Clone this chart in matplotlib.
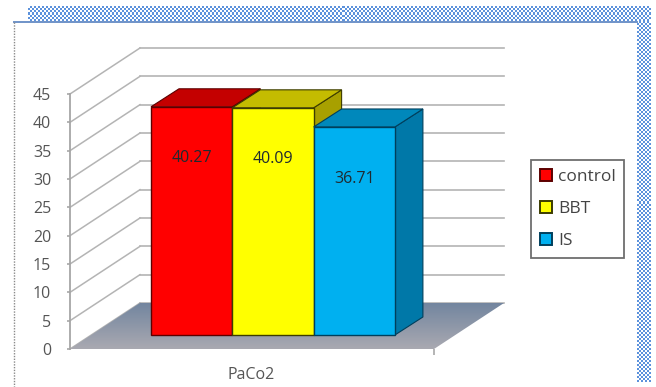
import numpy as np
import matplotlib
matplotlib.use('Agg')
import matplotlib.pyplot as plt
from matplotlib.colors import LinearSegmentedColormap
from matplotlib.patches import Patch, Polygon

plt.rcParams['font.family'] = ['Open Sans', 'DejaVu Sans']

categories = ['PaCo2']
series = ['control', 'BBT', 'IS']
values = [40.27, 40.09, 36.71]
value_labels = ['40.27', '40.09', '36.71']
y_ticks = [0, 5, 10, 15, 20, 25, 30, 35, 40, 45]

front_colors = ['#ff0000', '#ffff00', '#00b0f0']
top_colors = ['#c40000', '#c4bc00', '#0088bb']
side_colors = ['#a00000', '#a8a000', '#0078a8']
edge_colors = ['#5c0000', '#3c3c00', '#003f5c']

W, H = 656, 387
fig = plt.figure(figsize=(W / 100, H / 100), dpi=100, facecolor='white')

# page furniture: checkered band, frame line, dotted left edge
bg = fig.add_axes([0, 0, 1, 1], zorder=0)
bg.set_xlim(0, W)
bg.set_ylim(H, 0)
bg.axis('off')
checker_cmap = LinearSegmentedColormap.from_list('chk', ['#ffffff', '#3f7fd6'])


def checker(x0, x1, y0, y1):
    ny, nx = (y1 - y0) // 2, (x1 - x0) // 2
    yy, xx = np.indices((ny, nx))
    bg.imshow((xx + yy) % 2, cmap=checker_cmap, extent=(x0, x1, y1, y0), aspect='auto',
              interpolation='nearest', alpha=0.85)


checker(28, 651, 6, 21)
checker(637, 651, 21, 382)
bg.set_xlim(0, W)
bg.set_ylim(H, 0)
bg.plot([14, 637], [21.5, 21.5], color='#6f93c8', lw=1.4)
bg.plot([14, 14], [22, H], color='#8a8a8a', lw=1.0, ls=(0, (1, 1)))

# plot area: one x unit is one pixel, y is in data units
x_left, x_right = 70, 434
y_zero, y_top = 349, 94
ax = fig.add_axes([x_left / W, 1 - y_zero / H, (x_right - x_left) / W, (y_zero - y_top) / H], zorder=1)
ax.patch.set_alpha(0)
ax.set_xlim(0, x_right - x_left)
ax.set_ylim(0, 45)

wall_dx = 70
wall_dy = 46 / ((y_zero - y_top) / 45)
grid_color = '#b4b4b4'

for v in y_ticks:
    ax.plot([0, wall_dx], [v, v + wall_dy], color=grid_color, lw=1.1, clip_on=False, zorder=1)
    ax.plot([wall_dx, x_right - x_left + wall_dx], [v + wall_dy, v + wall_dy], color=grid_color,
            lw=1.2, clip_on=False, zorder=1)

# floor with a vertical gradient
floor_pts = [(0, 0), (x_right - x_left, 0), (x_right - x_left + wall_dx, wall_dy), (wall_dx, wall_dy)]
floor = Polygon(floor_pts, closed=True, fc='none', ec='none', transform=ax.transData, clip_on=False)
ax.add_patch(floor)
floor_cmap = LinearSegmentedColormap.from_list('floor', ['#a9a9b1', '#72859f'])
grad = ax.imshow(np.linspace(0, 1, 64).reshape(-1, 1), cmap=floor_cmap, origin='lower', aspect='auto',
                 extent=(0, x_right - x_left + wall_dx, 0, wall_dy), zorder=2)
grad.set_clip_box(fig.bbox)
grad.set_clip_path(floor)
ax.set_xlim(0, x_right - x_left)
ax.set_ylim(0, 45)

# bars: front faces plus oblique top and side faces
bar_left = 81
bar_width = 81.3
bar_base = 14 / ((y_zero - y_top) / 45)
depth_dx = 28
depth_dy = 18 / ((y_zero - y_top) / 45)

lefts = [bar_left + i * bar_width for i in range(len(values))]
for i, (x, v) in enumerate(zip(lefts, values)):
    top = bar_base + v
    edge = edge_colors[i]
    side = Polygon([(x + bar_width, bar_base), (x + bar_width + depth_dx, bar_base + depth_dy),
                    (x + bar_width + depth_dx, top + depth_dy), (x + bar_width, top)],
                   closed=True, fc=side_colors[i], ec=edge, lw=0.8, clip_on=False, zorder=3 + i)
    roof = Polygon([(x, top), (x + depth_dx, top + depth_dy), (x + bar_width + depth_dx, top + depth_dy),
                    (x + bar_width, top)],
                   closed=True, fc=top_colors[i], ec=edge, lw=0.8, clip_on=False, zorder=3 + i)
    ax.add_patch(side)
    ax.add_patch(roof)
    ax.bar(x, v, bar_width, bottom=bar_base, align='edge', color=front_colors[i], edgecolor=edge,
           lw=1.0, clip_on=False, zorder=4 + i)
    ax.text(x + bar_width / 2, top - 9.1, value_labels[i], ha='center', va='center', fontsize=11.5,
            color='#1f2a30', zorder=10)

# axes
for name in ['top', 'right', 'bottom']:
    ax.spines[name].set_visible(False)
ax.spines['left'].set_color('#a6a6a6')
ax.spines['left'].set_linewidth(1.3)
ax.spines['left'].set_zorder(6)
ax.set_yticks(y_ticks)
ax.tick_params(axis='y', length=2.5, width=1.1, color='#a0a0a0', labelcolor='#555555', labelsize=11.5, pad=11)
ax.set_xticks([181], labels=categories)
ax.set_xticks([x_right - x_left], minor=True)
ax.tick_params(axis='x', which='major', length=0, labelcolor='#555555', labelsize=11.5, pad=13)
ax.tick_params(axis='x', which='minor', length=4, width=1.1, color='#a0a0a0')

handles = [Patch(fc=c, ec=e, lw=1.4) for c, e in zip(front_colors, edge_colors)]
leg = fig.legend(handles, series, loc='center left', bbox_to_anchor=(531 / W, 1 - 209 / H), fontsize=12.5,
                 frameon=True, fancybox=False, edgecolor='#4a4a4a', labelcolor='#444444', handlelength=0.7,
                 handleheight=0.65, handletextpad=0.35, labelspacing=0.92, borderpad=0.5, borderaxespad=0)
leg.get_frame().set_linewidth(1.3)
leg.set_zorder(5)

fig.savefig('out.png', dpi=100)
